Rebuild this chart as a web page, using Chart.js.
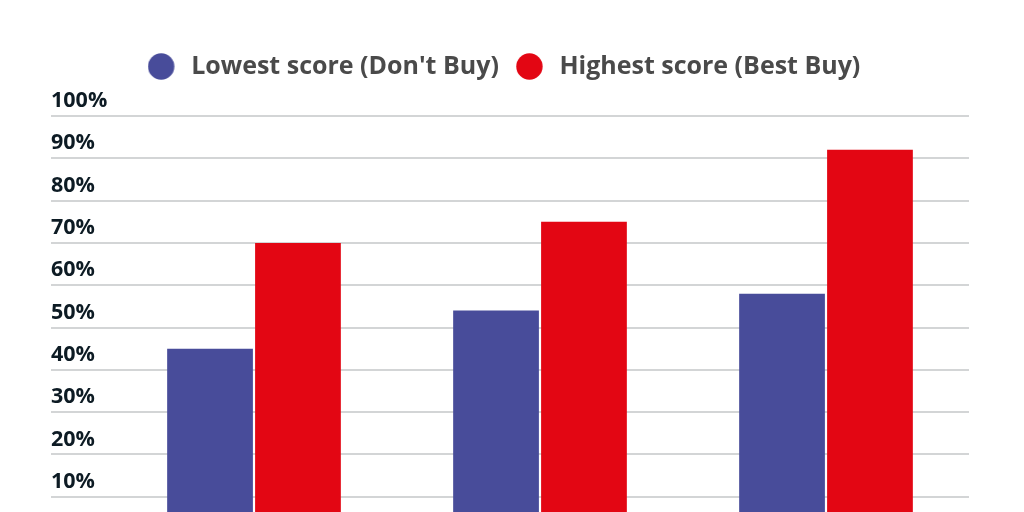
<!DOCTYPE html>
<html>
<head>
<meta charset="utf-8">
<script src="https://cdn.jsdelivr.net/npm/chart.js@4"></script>
<style>
html, body { margin: 0; padding: 0; width: 1024px; height: 512px; overflow: hidden; background: #ffffff; }
#wrap { position: relative; width: 1024px; height: 565px; }
</style>
</head>
<body>
<div id="wrap"><canvas id="c"></canvas></div>
<script>
const categories = ["Product 1", "Product 2", "Product 3"];
const seriesNames = ["Lowest score (Don't Buy)", "Highest score (Best Buy)"];
const lowestScores = [45, 54, 58];
const highestScores = [70, 75, 92];
const seriesColors = ["#484c9a", "#e30613"];
const yTicks = [0, 10, 20, 30, 40, 50, 60, 70, 80, 90, 100];

function dotImage(color) {
  const cv = document.createElement('canvas');
  cv.width = 31; cv.height = 27;
  const g = cv.getContext('2d');
  g.fillStyle = color;
  g.beginPath();
  g.arc(13.5, 13.5, 13.2, 0, Math.PI * 2);
  g.fill();
  return cv;
}

const legendSpacing = {
  id: 'legendSpacing',
  beforeInit(chart) {
    const origFit = chart.legend.fit;
    chart.legend.fit = function () {
      origFit.call(this);
      this.height += 27;
    };
  },
  afterLayout(chart) {
    const lg = chart.legend;
    lg.left -= 6;
    lg.right -= 6;
  }
};

new Chart(document.getElementById('c'), {
  type: 'bar',
  data: {
    labels: categories,
    datasets: [
      { label: seriesNames[0], data: lowestScores, backgroundColor: seriesColors[0], pointStyle: dotImage(seriesColors[0]) },
      { label: seriesNames[1], data: highestScores, backgroundColor: seriesColors[1], pointStyle: dotImage(seriesColors[1]) }
    ]
  },
  plugins: [legendSpacing],
  options: {
    responsive: true,
    maintainAspectRatio: false,
    animation: false,
    layout: { padding: { left: 51, right: 55, top: 37, bottom: 18 } },
    datasets: { bar: { categoryPercentage: 0.615, barPercentage: 0.975 } },
    plugins: {
      tooltip: { enabled: false },
      legend: {
        position: 'top',
        labels: {
          usePointStyle: true,
          pointStyleWidth: 31,
          padding: 17,
          color: '#4a4a4a',
          font: { family: 'Open Sans', size: 25, weight: 'bold' }
        }
      }
    },
    scales: {
      x: {
        grid: { display: false },
        border: { display: false },
        ticks: { display: false }
      },
      y: {
        min: 0,
        max: 100,
        afterFit: (s) => { s.width = 60; },
        afterBuildTicks: (s) => { s.ticks = yTicks.map(v => ({ value: v })); },
        border: { display: false },
        grid: { color: '#d3d5d6', lineWidth: 2, tickLength: 60, drawTicks: true },
        ticks: {
          crossAlign: 'far',
          padding: 0,
          labelOffset: -15,
          color: '#0d1b24',
          font: { family: 'Open Sans', size: 21.5, weight: 'bold' },
          callback: (v) => v + '%'
        }
      }
    }
  }
});
</script>
</body>
</html>
